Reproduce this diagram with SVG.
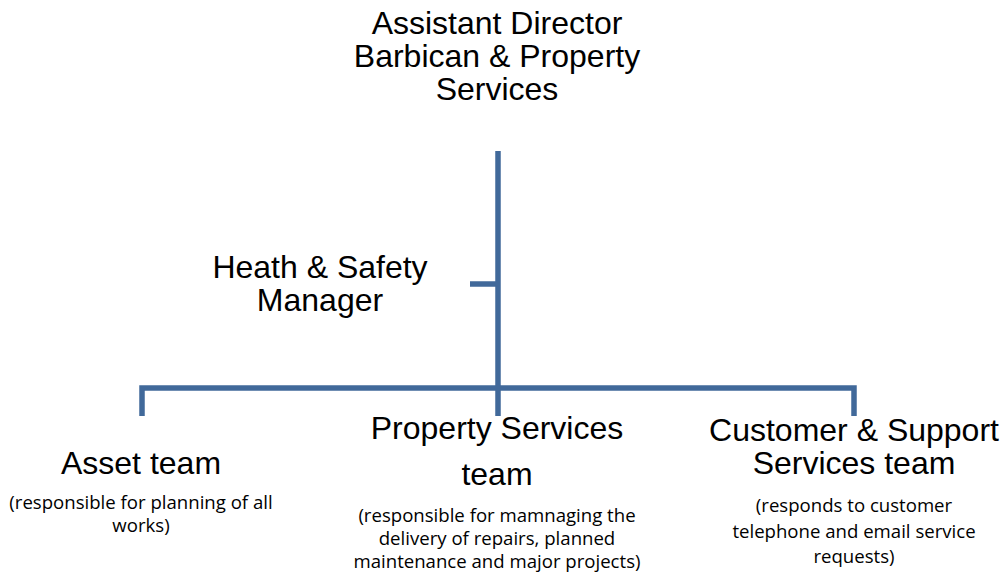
<svg xmlns="http://www.w3.org/2000/svg" width="1004" height="572" viewBox="0 0 1004 572">
<style>
.ln{stroke:#41699a;stroke-width:5.5;fill:none}
.big{font-family:"Liberation Sans",Arial,sans-serif;font-size:32px;fill:#000;text-anchor:middle}
.sm{font-family:"Open Sans","Liberation Sans",sans-serif;font-size:18.6px;fill:#000;text-anchor:middle}
</style>
<rect width="1004" height="572" fill="#fff"/>
<g id="connectors">
<line class="ln" x1="498" y1="151" x2="498" y2="416"/>
<line class="ln" x1="470" y1="284" x2="498" y2="284"/>
<polyline class="ln" points="142,416 142,388 854,388 854,416"/>
</g>
<g id="director">
<text class="big" x="497" y="34">Assistant Director</text>
<text class="big" x="497" y="67">Barbican &amp; Property</text>
<text class="big" x="497" y="100">Services</text>
</g>
<g id="hs-manager">
<text class="big" x="320" y="277.5">Heath &amp; Safety</text>
<text class="big" x="320" y="310.5">Manager</text>
</g>
<g id="asset-team">
<text class="big" x="141" y="474">Asset team</text>
<text class="sm" x="141" y="509">(responsible for planning of all</text>
<text class="sm" x="141" y="532">works)</text>
</g>
<g id="property-team">
<text class="big" x="497" y="439">Property Services</text>
<text class="big" x="497" y="485">team</text>
<text class="sm" x="497" y="522">(responsible for mamnaging the</text>
<text class="sm" x="497" y="545">delivery of repairs, planned</text>
<text class="sm" x="497" y="568">maintenance and major projects)</text>
</g>
<g id="customer-team">
<text class="big" x="854" y="441">Customer &amp; Support</text>
<text class="big" x="854" y="474">Services team</text>
<text class="sm" x="854" y="512">(responds to customer</text>
<text class="sm" x="854" y="538">telephone and email service</text>
<text class="sm" x="854" y="563">requests)</text>
</g>
</svg>
